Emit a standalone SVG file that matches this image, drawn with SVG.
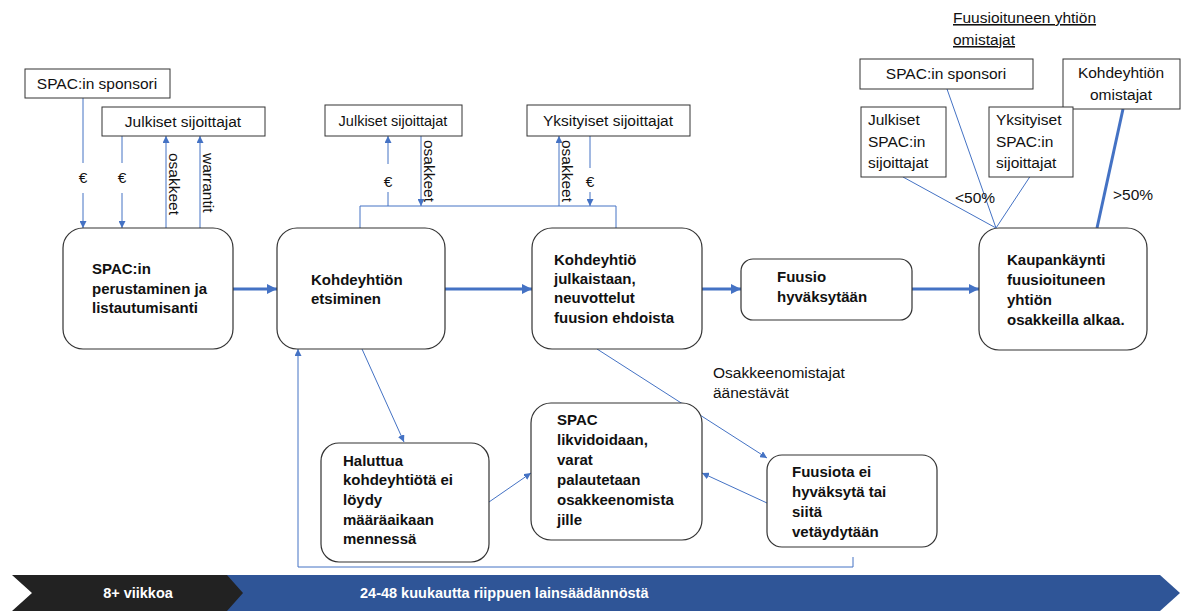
<svg xmlns="http://www.w3.org/2000/svg" width="1181" height="612" viewBox="0 0 1181 612">
<style>
text{font-family:"Liberation Sans",Arial,sans-serif;font-size:15.5px;fill:#111}
.b{font-weight:bold;font-size:15px}
.c{text-anchor:middle}
.box{fill:#fff;stroke:#333;stroke-width:1.2}
.rb{fill:#fff;stroke:#333;stroke-width:1}
.thin{fill:none;stroke:#4472C4;stroke-width:1}
.thick{fill:none;stroke:#4472C4;stroke-width:3}
.w{fill:#fff;font-weight:bold;font-size:14.5px}
</style>
<defs>
<marker id="a" viewBox="0 0 10 10" refX="10" refY="5" markerWidth="7" markerHeight="7" markerUnits="userSpaceOnUse" orient="auto"><path d="M0,0 L10,5 L0,10 z" fill="#4472C4"/></marker>
<marker id="A" viewBox="0 0 10 10" refX="10" refY="5" markerWidth="11" markerHeight="10" markerUnits="userSpaceOnUse" orient="auto"><path d="M0,0 L10,5 L0,10 z" fill="#4472C4"/></marker>
</defs>

<g id="timeline">
<polygon points="225,575 1160,575 1180,593 1160,611 225,611" fill="#2F5597"/>
<polygon points="12,575 227,575 243,593 227,611 12,611 32,593" fill="#222"/>
<text class="w c" x="138" y="598">8+ viikkoa</text>
<text class="w" x="360" y="598">24-48 kuukautta riippuen lainsäädännöstä</text>
</g>

<g id="connectors">
<line class="thin" x1="83" y1="98" x2="83" y2="163"/>
<line class="thin" x1="83" y1="193" x2="83" y2="228" marker-end="url(#a)"/>
<line class="thin" x1="122" y1="136" x2="122" y2="163"/>
<line class="thin" x1="122" y1="193" x2="122" y2="228" marker-end="url(#a)"/>
<line class="thin" x1="166" y1="228" x2="166" y2="136" marker-end="url(#a)"/>
<line class="thin" x1="200" y1="228" x2="200" y2="136" marker-end="url(#a)"/>
<polyline class="thin" points="360,228 360,206 616,206 616,228"/>
<line class="thin" x1="388" y1="206" x2="388" y2="192"/>
<line class="thin" x1="388" y1="164" x2="388" y2="136" marker-end="url(#a)"/>
<line class="thin" x1="421" y1="136" x2="421" y2="206" marker-end="url(#a)"/>
<line class="thin" x1="559" y1="206" x2="559" y2="136" marker-end="url(#a)"/>
<line class="thin" x1="590" y1="136" x2="590" y2="168"/>
<line class="thin" x1="590" y1="192" x2="590" y2="206" marker-end="url(#a)"/>
<line class="thick" x1="233" y1="289" x2="277" y2="289" marker-end="url(#A)"/>
<line class="thick" x1="445" y1="289" x2="532" y2="289" marker-end="url(#A)"/>
<line class="thick" x1="702" y1="289" x2="741" y2="289" marker-end="url(#A)"/>
<line class="thick" x1="912" y1="289" x2="979" y2="289" marker-end="url(#A)"/>
<line class="thin" x1="903" y1="177" x2="996" y2="228"/>
<line class="thin" x1="947" y1="89" x2="996" y2="228"/>
<line class="thin" x1="1033" y1="172" x2="996" y2="228"/>
<line class="thick" x1="1123" y1="109" x2="1097" y2="228"/>
<line class="thin" x1="362" y1="349" x2="404" y2="442" marker-end="url(#a)"/>
<line class="thin" x1="489" y1="502" x2="531" y2="473" marker-end="url(#a)"/>
<line class="thin" x1="597" y1="349" x2="767" y2="458" marker-end="url(#a)"/>
<line class="thin" x1="767" y1="503" x2="702" y2="473" marker-end="url(#a)"/>
<polyline class="thin" points="853,557 853,567 298,567 298,349" marker-end="url(#a)"/>
</g>

<g id="labels">
<text class="c" x="83" y="183">€</text>
<text class="c" x="122" y="183">€</text>
<text x="169" y="153" transform="rotate(90 169 153)">osakkeet</text>
<text x="203" y="153" transform="rotate(90 203 153)">warrantit</text>
<text class="c" x="388" y="187">€</text>
<text x="424" y="140" transform="rotate(90 424 140)">osakkeet</text>
<text x="562" y="140" transform="rotate(90 562 140)">osakkeet</text>
<text class="c" x="590" y="187">€</text>
<text x="955" y="203">&lt;50%</text>
<text x="1113" y="200">&gt;50%</text>
<text x="713" y="378">Osakkeenomistajat</text>
<text x="713" y="398">äänestävät</text>
<text x="953" y="23" text-decoration="underline">Fuusioituneen yhtiön</text>
<text x="953" y="45" text-decoration="underline">omistajat</text>
</g>

<g id="n-sponsor1"><rect class="rb" x="25" y="69" width="145" height="29"/><text class="c" x="97" y="89">SPAC:in sponsori</text></g>
<g id="n-julk1"><rect class="rb" x="102" y="107" width="163" height="29"/><text class="c" x="183" y="127">Julkiset sijoittajat</text></g>
<g id="n-julk2"><rect class="rb" x="325" y="105" width="137" height="31"/><text class="c" x="393" y="126" style="font-size:14.5px">Julkiset sijoittajat</text></g>
<g id="n-yks"><rect class="rb" x="527" y="105" width="163" height="31"/><text class="c" x="608" y="126">Yksityiset sijoittajat</text></g>
<g id="n-sponsor2"><rect class="rb" x="860" y="59" width="173" height="30"/><text class="c" x="946" y="79">SPAC:in sponsori</text></g>
<g id="n-kohde"><rect class="rb" x="1063" y="59" width="117" height="50"/><text class="c" x="1121" y="78">Kohdeyhtiön</text><text class="c" x="1121" y="100">omistajat</text></g>
<g id="n-julkspac"><rect class="rb" x="861" y="107" width="85" height="70"/><text x="868" y="125">Julkiset</text><text x="868" y="147">SPAC:in</text><text x="868" y="168">sijoittajat</text></g>
<g id="n-yksspac"><rect class="rb" x="989" y="107" width="84" height="70"/><text x="996" y="125">Yksityiset</text><text x="996" y="147">SPAC:in</text><text x="996" y="168">sijoittajat</text></g>

<g id="n-spac"><rect class="box" x="63" y="228" width="170" height="121" rx="20"/><text class="b" x="92" y="274">SPAC:in</text><text class="b" x="92" y="294">perustaminen ja</text><text class="b" x="92" y="313">listautumisanti</text></g>
<g id="n-etsiminen"><rect class="box" x="277" y="228" width="168" height="121" rx="20"/><text class="b" x="311" y="285">Kohdeyhtiön</text><text class="b" x="311" y="304">etsiminen</text></g>
<g id="n-julkaistaan"><rect class="box" x="532" y="228" width="170" height="121" rx="20"/><text class="b" x="554" y="265">Kohdeyhtiö</text><text class="b" x="554" y="284">julkaistaan,</text><text class="b" x="554" y="303">neuvottelut</text><text class="b" x="554" y="323">fuusion ehdoista</text></g>
<g id="n-hyvaksytaan"><rect class="box" x="741" y="259" width="171" height="61" rx="12"/><text class="b" x="777" y="282">Fuusio</text><text class="b" x="777" y="302">hyväksytään</text></g>
<g id="n-kaupankaynti"><rect class="box" x="979" y="228" width="168" height="122" rx="20"/><text class="b" x="1007" y="265">Kaupankäynti</text><text class="b" x="1007" y="285">fuusioituneen</text><text class="b" x="1007" y="305">yhtiön</text><text class="b" x="1007" y="325">osakkeilla alkaa.</text></g>
<g id="n-haluttua"><rect class="box" x="321" y="443" width="168" height="119" rx="18"/><text class="b" x="343" y="466">Haluttua</text><text class="b" x="343" y="485">kohdeyhtiötä ei</text><text class="b" x="343" y="505">löydy</text><text class="b" x="343" y="525">määräaikaan</text><text class="b" x="343" y="544">mennessä</text></g>
<g id="n-likvidoidaan"><rect class="box" x="531" y="403" width="171" height="137" rx="20"/><text class="b" x="557" y="425">SPAC</text><text class="b" x="557" y="445">likvidoidaan,</text><text class="b" x="557" y="465">varat</text><text class="b" x="557" y="485">palautetaan</text><text class="b" x="557" y="505">osakkeenomista</text><text class="b" x="557" y="525">jille</text></g>
<g id="n-fuusiota-ei"><rect class="box" x="767" y="455" width="170" height="92" rx="15"/><text class="b" x="792" y="477">Fuusiota ei</text><text class="b" x="792" y="497">hyväksytä tai</text><text class="b" x="792" y="517">siitä</text><text class="b" x="792" y="537">vetäydytään</text></g>
</svg>
